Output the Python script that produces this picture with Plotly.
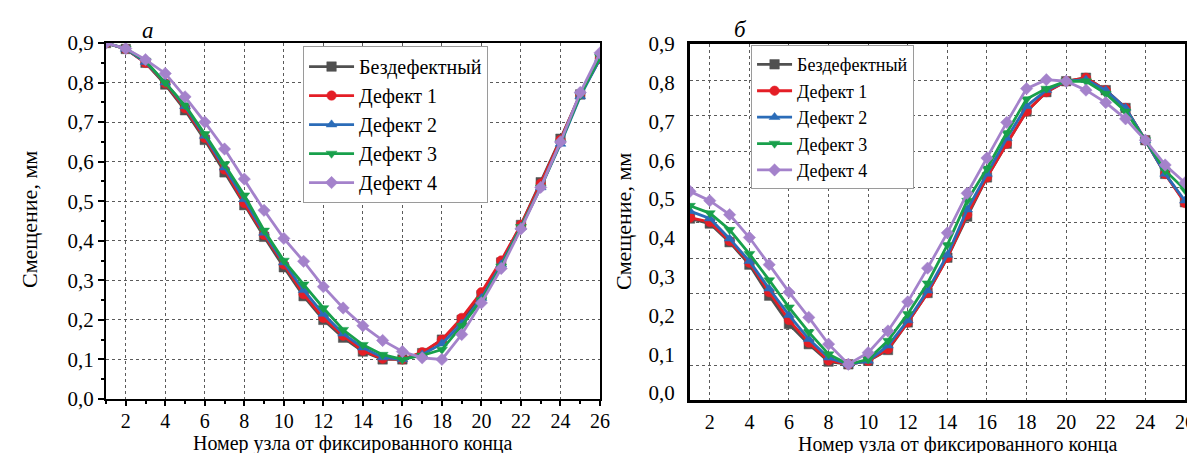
import plotly.graph_objects as go

nodes = list(range(1, 27))
series_names = ["Бездефектный", "Дефект 1", "Дефект 2", "Дефект 3", "Дефект 4"]

# Panel а
a_intact = [0.90, 0.885, 0.85, 0.795, 0.73, 0.655, 0.573, 0.49, 0.41, 0.333, 0.26, 0.20, 0.155, 0.12, 0.10, 0.10,
            0.116, 0.15, 0.20, 0.262, 0.345, 0.44, 0.548, 0.658, 0.77, 0.86]
a_def1 = [0.90, 0.885, 0.85, 0.798, 0.735, 0.66, 0.58, 0.495, 0.415, 0.34, 0.265, 0.205, 0.16, 0.122, 0.102, 0.10,
          0.118, 0.15, 0.205, 0.27, 0.35, 0.44, 0.545, 0.655, 0.77, 0.86]
a_def2 = [0.90, 0.885, 0.852, 0.80, 0.74, 0.665, 0.585, 0.505, 0.42, 0.345, 0.275, 0.215, 0.165, 0.13, 0.105, 0.10,
          0.112, 0.14, 0.19, 0.255, 0.34, 0.435, 0.535, 0.645, 0.765, 0.86]
a_def3 = [0.90, 0.886, 0.855, 0.80, 0.743, 0.67, 0.594, 0.515, 0.426, 0.35, 0.29, 0.23, 0.175, 0.137, 0.112, 0.10,
          0.11, 0.125, 0.185, 0.25, 0.335, 0.435, 0.535, 0.648, 0.768, 0.865]
a_def4 = [0.90, 0.886, 0.858, 0.823, 0.764, 0.70, 0.632, 0.556, 0.477, 0.406, 0.348, 0.284, 0.23, 0.185, 0.148, 0.12,
          0.104, 0.10, 0.163, 0.243, 0.33, 0.43, 0.535, 0.65, 0.775, 0.875]

# Panel б
b_intact = [0.450, 0.437, 0.389, 0.331, 0.251, 0.178, 0.126, 0.081, 0.074, 0.083, 0.111, 0.182, 0.258, 0.349, 0.455,
            0.556, 0.643, 0.726, 0.776, 0.804, 0.813, 0.781, 0.735, 0.652, 0.565, 0.492]
b_def1 = [0.452, 0.441, 0.392, 0.336, 0.260, 0.188, 0.130, 0.084, 0.074, 0.083, 0.113, 0.182, 0.258, 0.349, 0.460,
          0.556, 0.643, 0.726, 0.776, 0.804, 0.813, 0.781, 0.735, 0.652, 0.565, 0.490]
b_def2 = [0.469, 0.450, 0.398, 0.340, 0.269, 0.201, 0.139, 0.091, 0.074, 0.083, 0.122, 0.187, 0.264, 0.356, 0.473,
          0.565, 0.657, 0.740, 0.781, 0.804, 0.808, 0.781, 0.735, 0.652, 0.565, 0.496]
b_def3 = [0.483, 0.464, 0.421, 0.359, 0.291, 0.221, 0.157, 0.100, 0.074, 0.087, 0.135, 0.204, 0.283, 0.382, 0.496,
          0.579, 0.671, 0.758, 0.785, 0.804, 0.804, 0.772, 0.726, 0.652, 0.574, 0.524]
b_def4 = [0.520, 0.496, 0.460, 0.401, 0.331, 0.260, 0.195, 0.126, 0.074, 0.104, 0.160, 0.235, 0.322, 0.413, 0.515,
          0.606, 0.698, 0.785, 0.808, 0.804, 0.781, 0.749, 0.707, 0.652, 0.588, 0.542]

x_ticks = list(range(2, 27, 2))
y_ticks = [round(0.1 * i, 1) for i in range(10)]

colors = ["#505050", "#e41e26", "#2b6cb8", "#18a04b", "#a482cb"]
symbols = ["square", "circle", "triangle-up", "triangle-down", "diamond"]

FONT = "Liberation Serif, Times New Roman, Times, serif"

fig = go.Figure()
for name, ys, c, s in zip(series_names, [a_intact, a_def1, a_def2, a_def3, a_def4], colors, symbols):
    fig.add_trace(go.Scatter(x=nodes, y=ys, name=name, mode="lines+markers",
                             line=dict(color=c, width=2.8),
                             marker=dict(symbol=s, size=9.5, color=c, line=dict(color=c, width=0.5)),
                             xaxis="x", yaxis="y", legend="legend"))
for name, ys, c, s in zip(series_names, [b_intact, b_def1, b_def2, b_def3, b_def4], colors, symbols):
    fig.add_trace(go.Scatter(x=nodes, y=ys, name=name, mode="lines+markers",
                             line=dict(color=c, width=2.8),
                             marker=dict(symbol=s, size=9.5, color=c, line=dict(color=c, width=0.5)),
                             xaxis="x2", yaxis="y2", legend="legend2"))

GRIDC = "#5a5a5a"
grid = dict(showgrid=True, gridcolor=GRIDC, gridwidth=1.3, griddash="dot")
tickfont = dict(family=FONT, size=21, color="black")
xtickfont = dict(family=FONT, size=20, color="black")

fig.update_layout(
    width=1195, height=453,
    template="none",
    font=dict(family=FONT, color="black"),
    paper_bgcolor="white", plot_bgcolor="white",
    margin=dict(l=0, r=0, t=0, b=0),
    separators=", ",
    showlegend=True,
    xaxis=dict(domain=[0.0820, 0.4954], range=[1, 26], anchor="y",
               tickmode="array", tickvals=x_ticks, ticks="outside", ticklen=5, tickwidth=2,
               tickcolor="black", showline=True, linewidth=2, linecolor="black", mirror=True,
               zeroline=False, tickfont=xtickfont, automargin=False, ticklabeloverflow="allow",
               ticklabelstandoff=-2,
               minor=dict(ticks="outside", ticklen=3, tickwidth=1.5, dtick=1, tick0=1, tickcolor="black"),
               **grid),
    yaxis=dict(domain=[0.1369, 0.9227], range=[0, 0.9], anchor="x",
               tickmode="array", tickvals=y_ticks, tickformat=".1f", ticks="outside", ticklen=6,
               tickwidth=2, tickcolor="black", showline=True, linewidth=2, linecolor="black",
               mirror=True, zeroline=False, tickfont=tickfont, automargin=False,
               ticklabeloverflow="allow",
               minor=dict(ticks="outside", ticklen=3, tickwidth=1.5, dtick=0.05, tick0=0, tickcolor="black"),
               **grid),
    xaxis2=dict(domain=[0.5707, 0.9849], range=[1, 26], anchor="y2",
                tickmode="array", tickvals=x_ticks, ticks="", showline=True, linewidth=3,
                linecolor="black", mirror=True, zeroline=False, tickfont=xtickfont,
                automargin=False, ticklabelstandoff=2, ticklabeloverflow="allow", **grid),
    yaxis2=dict(domain=[0.1347, 0.9205], range=[-0.018, 0.9], anchor="x2",
                tickmode="array", tickvals=y_ticks, tickformat=".1f", ticks="", showline=True,
                linewidth=3, linecolor="black", mirror=True, zeroline=False, tickfont=tickfont,
                automargin=False, showgrid=False, ticklabelstandoff=8, ticklabeloverflow="allow",
                minor=dict(showgrid=True, tick0=0.072, dtick=0.0918, gridcolor=GRIDC,
                           gridwidth=1.3, griddash="dot", ticks="")),
    legend=dict(x=0.2469, y=0.916, xanchor="left", yanchor="top",
                bgcolor="white", bordercolor="#9a9a9a", borderwidth=1,
                font=dict(family=FONT, size=20, color="black"), itemwidth=45,
                tracegroupgap=0),
    legend2=dict(x=0.6218, y=0.918, xanchor="left", yanchor="top",
                 bgcolor="white", bordercolor="#9a9a9a", borderwidth=1,
                 font=dict(family=FONT, size=18, color="black"), itemwidth=35,
                 tracegroupgap=0),
    annotations=[
        dict(text="<i>а</i>", x=140 / 1195, y=1 - 22 / 453, xref="paper", yref="paper",
             xanchor="center", yanchor="middle",
             showarrow=False, font=dict(family=FONT, size=23, color="black")),
        dict(text="<i>б</i>", x=732 / 1195, y=1 - 21 / 453, xref="paper", yref="paper",
             xanchor="center", yanchor="middle",
             showarrow=False, font=dict(family=FONT, size=23, color="black")),
        dict(text="Смещение, мм", x=22 / 1195, y=1 - 212 / 453, xref="paper", yref="paper",
             xanchor="center", yanchor="middle",
             textangle=-90, showarrow=False, font=dict(family=FONT, size=22, color="black")),
        dict(text="Смещение, мм", x=615 / 1195, y=1 - 214 / 453, xref="paper", yref="paper",
             xanchor="center", yanchor="middle",
             textangle=-90, showarrow=False, font=dict(family=FONT, size=22, color="black")),
        dict(text="Номер узла от фиксированного конца", x=345 / 1195, y=1 - 435 / 453,
             xref="paper", yref="paper", showarrow=False, xanchor="center", yanchor="middle",
             font=dict(family=FONT, size=20, color="black")),
        dict(text="Номер узла от фиксированного конца", x=950 / 1195, y=1 - 436 / 453,
             xref="paper", yref="paper", showarrow=False, xanchor="center", yanchor="middle",
             font=dict(family=FONT, size=20, color="black")),
    ],
)

fig.write_html("out.html")
